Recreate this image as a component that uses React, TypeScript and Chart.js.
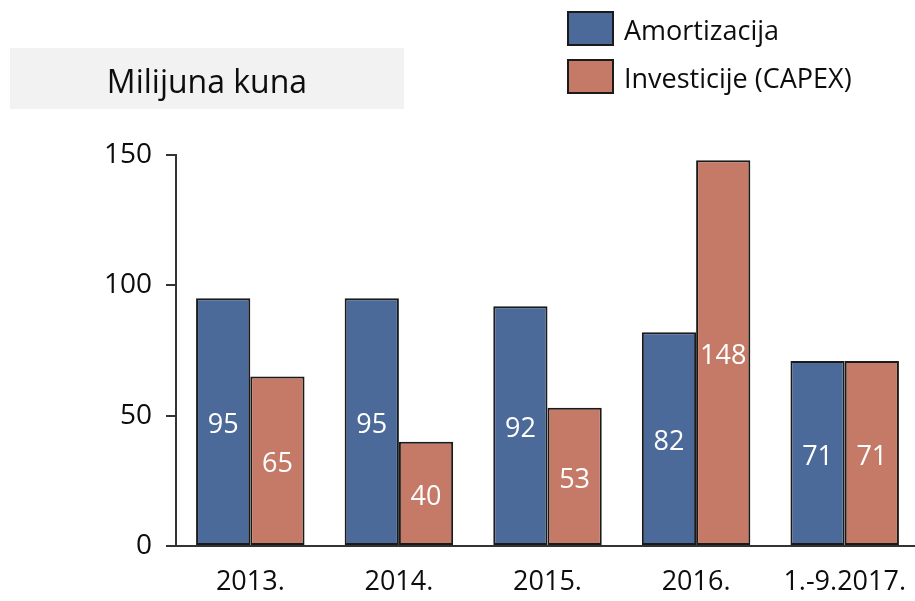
import React, { useEffect, useRef } from "react";
import { Chart, registerables } from "chart.js";

Chart.register(...registerables);

const categories = ["2013.", "2014.", "2015.", "2016.", "1.-9.2017."];
const amortizacija = [95, 95, 92, 82, 71];
const capex = [65, 40, 53, 148, 71];
const seriesNames = ["Amortizacija", "Investicije (CAPEX)"];
const yTicks = [0, 50, 100, 150];
const titleText = "Milijuna kuna";

const FONT = "'Open Sans', sans-serif";
const BLUE = "#4B6A9A";
const RED = "#C57A67";
const EDGE = "#1a1a1a";

const overlayPlugin = {
  id: "overlay",
  afterDatasetsDraw(chart: any) {
    const ctx = chart.ctx;
    ctx.save();
    ctx.fillStyle = "#ffffff";
    ctx.font = `27px ${FONT}`;
    ctx.textAlign = "center";
    ctx.textBaseline = "middle";
    chart.data.datasets.forEach((ds: any, di: number) => {
      const meta = chart.getDatasetMeta(di);
      meta.data.forEach((bar: any, i: number) => {
        const y = (bar.y + bar.base) / 2 + 4;
        ctx.fillText(String(ds.data[i]), bar.x, y);
      });
    });
    ctx.restore();
  },
  afterDraw(chart: any) {
    const ctx = chart.ctx;
    ctx.save();
    ctx.fillStyle = "#f2f2f2";
    ctx.fillRect(10, 48, 394, 61);
    ctx.fillStyle = "#0d0d0d";
    ctx.font = `32px ${FONT}`;
    ctx.textAlign = "center";
    ctx.textBaseline = "alphabetic";
    ctx.fillText(titleText, 207, 93);
    ctx.font = `27px ${FONT}`;
    const items = chart.data.datasets;
    items.forEach((ds: any, i: number) => {
      const top = 12 + i * 48;
      ctx.fillStyle = ds.backgroundColor;
      ctx.fillRect(568, top, 45, 33);
      ctx.strokeStyle = EDGE;
      ctx.lineWidth = 2;
      ctx.strokeRect(568, top, 45, 33);
      ctx.fillStyle = "#0d0d0d";
      ctx.textAlign = "left";
      ctx.fillText(ds.label, 624, top + 28);
    });
    ctx.restore();
  },
};

export default function App() {
  const ref = useRef<HTMLCanvasElement | null>(null);
  useEffect(() => {
    if (!ref.current) return;
    const chart = new Chart(ref.current, {
      type: "bar",
      data: {
        labels: categories,
        datasets: [
          {
            label: seriesNames[0],
            data: amortizacija,
            backgroundColor: BLUE,
            borderColor: EDGE,
            borderWidth: 2,
            borderSkipped: false,
            barPercentage: 1,
            categoryPercentage: 0.73,
          },
          {
            label: seriesNames[1],
            data: capex,
            backgroundColor: RED,
            borderColor: EDGE,
            borderWidth: 2,
            borderSkipped: false,
            barPercentage: 1,
            categoryPercentage: 0.73,
          },
        ],
      },
      options: {
        animation: false,
        responsive: false,
        maintainAspectRatio: false,
        layout: { padding: { top: 155, right: 0, left: 0, bottom: 0 } },
        plugins: {
          legend: { display: false },
          tooltip: { enabled: false },
          title: { display: false },
        },
        scales: {
          x: {
            grid: { display: false, drawTicks: false },
            border: { display: true, color: "#333333", width: 2 },
            ticks: {
              color: "#0d0d0d",
              font: { family: FONT, size: 27 },
              padding: 20,
              maxRotation: 0,
              autoSkip: false,
            },
            afterFit(scale: any) {
              scale.height = 55;
            },
          },
          y: {
            min: 0,
            max: 150,
            afterBuildTicks(scale: any) {
              scale.ticks = yTicks.map((v) => ({ value: v }));
            },
            grid: {
              drawOnChartArea: false,
              drawTicks: true,
              tickLength: 10,
              color: "#333333",
              lineWidth: 2,
            },
            border: { display: true, color: "#333333", width: 2 },
            ticks: {
              color: "#0d0d0d",
              font: { family: FONT, size: 28 },
              padding: 14,
            },
            afterFit(scale: any) {
              scale.width = 176;
            },
          },
        },
      },
      plugins: [overlayPlugin],
    });
    return () => chart.destroy();
  }, []);
  return (
    <div style={{ position: "absolute", left: 0, top: 0, width: 915, height: 601, overflow: "hidden", background: "#fff" }}>
      <canvas ref={ref} width={926} height={601} style={{ width: 926, height: 601, display: "block" }} />
    </div>
  );
}
